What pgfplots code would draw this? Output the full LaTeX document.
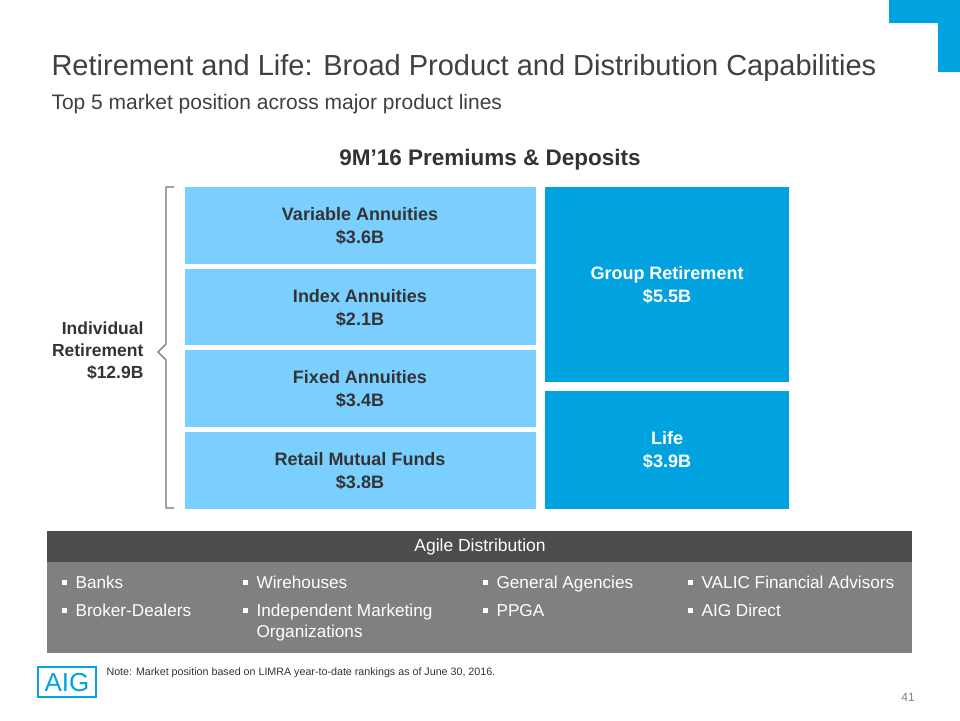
\documentclass[border=0pt]{standalone}
\usepackage{pgfplots}
\pgfplotsset{compat=1.18}
\usepackage{fontspec}
\setmainfont{Liberation Sans}
\definecolor{lblue}{HTML}{7ACFFF}
\definecolor{dblue}{HTML}{00A3E0}
\definecolor{txt}{HTML}{333333}
\definecolor{ttl}{HTML}{404040}
\definecolor{hdr}{HTML}{4D4D4D}
\definecolor{bod}{HTML}{808080}
\newcommand{\bul}{\raisebox{3pt}{\rule{5pt}{5pt}}\hspace{9pt}}
\begin{document}
\begin{tikzpicture}
\begin{axis}[
  width=960pt, height=720pt, scale only axis,
  xmin=0, xmax=960, ymin=0, ymax=720, y dir=reverse,
  hide axis, clip=false,
]
\fill[white] (axis cs:0,0) rectangle (axis cs:960,720);
% corner mark
\addplot[draw=none, fill=dblue] coordinates {(889,0) (960,0) (960,72) (938,72) (938,23) (889,23)} -- cycle;
% left column boxes (Individual Retirement)
\addplot[draw=none, fill=lblue] coordinates {(185,187) (536,187) (536,264) (185,264)} -- cycle;
\addplot[draw=none, fill=lblue] coordinates {(185,269) (536,269) (536,345) (185,345)} -- cycle;
\addplot[draw=none, fill=lblue] coordinates {(185,350) (536,350) (536,427) (185,427)} -- cycle;
\addplot[draw=none, fill=lblue] coordinates {(185,432) (536,432) (536,509) (185,509)} -- cycle;
% right column boxes
\addplot[draw=none, fill=dblue] coordinates {(545,187) (789,187) (789,382) (545,382)} -- cycle;
\addplot[draw=none, fill=dblue] coordinates {(545,391) (789,391) (789,509) (545,509)} -- cycle;
% bracket
\addplot[draw=gray!90!black, line width=1.3pt] coordinates {(174,187) (166,187) (166,344) (158,352) (166,360) (166,508) (174,508)};
% distribution panel
\addplot[draw=none, fill=hdr] coordinates {(47,531) (912,531) (912,562) (47,562)} -- cycle;
\addplot[draw=none, fill=bod] coordinates {(47,562) (912,562) (912,653) (47,653)} -- cycle;
% AIG logo box
\addplot[draw=dblue, line width=2.5pt, fill=none] coordinates {(38,667) (96,667) (96,697) (38,697)} -- cycle;

% titles
\node[anchor=west, text=ttl, font=\fontsize{29}{32}\selectfont] at (axis cs:48,68) {Retirement and Life: Broad Product and Distribution Capabilities};
\node[anchor=west, text=ttl, font=\fontsize{21}{24}\selectfont] at (axis cs:48,104) {Top 5 market position across major product lines};
\node[text=txt, font=\fontsize{22.5}{26}\selectfont\bfseries] at (axis cs:490,160) {9M’16 Premiums \& Deposits};

% box labels
\tikzset{bl/.style={text=txt, align=center, font=\fontsize{18}{23}\selectfont\bfseries}}
\node[bl] at (axis cs:360,226) {Variable Annuities\\\$3.6B};
\node[bl] at (axis cs:360,308) {Index Annuities\\\$2.1B};
\node[bl] at (axis cs:360,389) {Fixed Annuities\\\$3.4B};
\node[bl] at (axis cs:360,471) {Retail Mutual Funds\\\$3.8B};
\node[bl, text=white] at (axis cs:667,285) {Group Retirement\\\$5.5B};
\node[bl, text=white] at (axis cs:667,450) {Life\\\$3.9B};
\node[bl, align=right, anchor=east, font=\fontsize{17.5}{22}\selectfont\bfseries] at (axis cs:147,351) {Individual\\Retirement\\\$12.9B};

% distribution text
\node[text=white, font=\fontsize{17.5}{20}\selectfont] at (axis cs:480,547) {Agile Distribution};
\tikzset{bt/.style={text=white, anchor=base west, font=\fontsize{17.2}{21}\selectfont}}
\node[bt] at (axis cs:58,588) {\bul Banks};
\node[bt] at (axis cs:58,616) {\bul Broker-Dealers};
\node[bt] at (axis cs:239,588) {\bul Wirehouses};
\node[bt] at (axis cs:239,616) {\bul Independent Marketing};
\node[bt] at (axis cs:253,637) {Organizations};
\node[bt] at (axis cs:479,588) {\bul General Agencies};
\node[bt] at (axis cs:479,616) {\bul PPGA};
\node[bt] at (axis cs:684,588) {\bul VALIC Financial Advisors};
\node[bt] at (axis cs:684,616) {\bul AIG Direct};

% footer
\node[text=dblue, font=\fontsize{26}{28}\selectfont] at (axis cs:67,683) {AIG};
\node[anchor=west, text=txt, font=\fontsize{10.7}{12}\selectfont] at (axis cs:103,673) {Note: Market position based on LIMRA year-to-date rankings as of June 30, 2016.};
\node[text=gray, font=\fontsize{12}{14}\selectfont] at (axis cs:908,697) {41};
\end{axis}
\end{tikzpicture}
\end{document}
